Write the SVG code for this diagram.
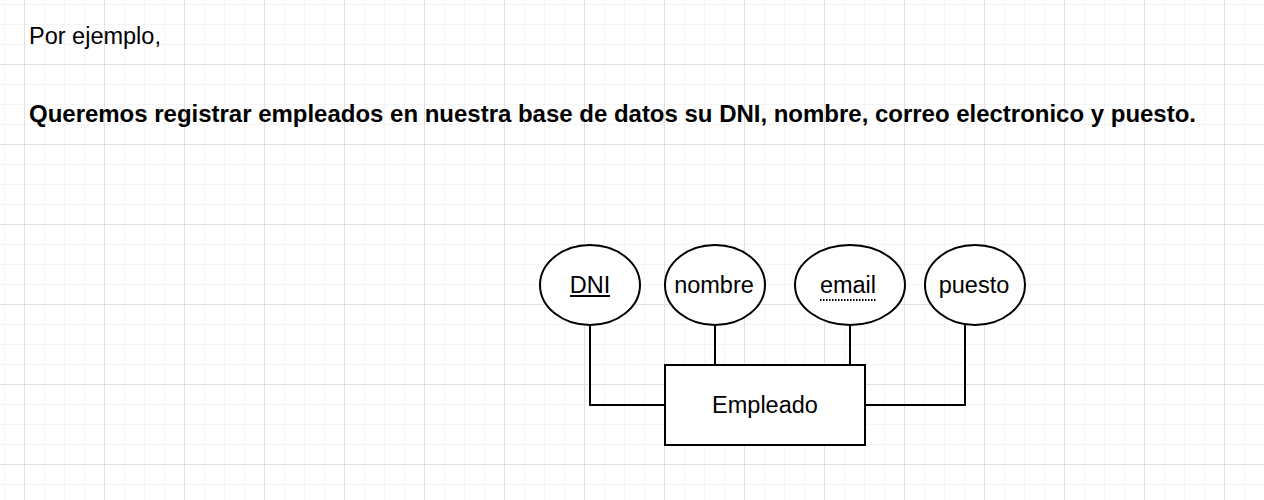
<svg xmlns="http://www.w3.org/2000/svg" width="1264" height="500" viewBox="0 0 1264 500">
  <defs>
    <pattern id="minor" x="4" y="4" width="20" height="20" patternUnits="userSpaceOnUse">
      <path d="M0 0 H20 M0 0 V20" fill="none" stroke="#ececec" stroke-width="1"/>
    </pattern>
    <pattern id="major" x="24" y="64" width="80" height="80" patternUnits="userSpaceOnUse">
      <path d="M0 0 H80 M0 0 V80" fill="none" stroke="#cdcdcd" stroke-width="1"/>
    </pattern>
  </defs>
  <style>
    text { font-family: "Liberation Sans", Arial, Helvetica, sans-serif; fill: #000; }
    .lbl { font-size: 23.5px; text-anchor: middle; }
    .shape { fill: #fff; stroke: #000; stroke-width: 2; }
    .conn { fill: none; stroke: #000; stroke-width: 2; }
  </style>
  <rect width="1264" height="500" fill="#fff"/>
  <rect width="1264" height="500" fill="url(#minor)"/>
  <rect width="1264" height="500" fill="url(#major)"/>

  <text x="29" y="44" style="font-size:23.5px">Por ejemplo,</text>
  <text x="29" y="122" style="font-size:24px;font-weight:bold" textLength="1167" lengthAdjust="spacing">Queremos registrar empleados en nuestra base de datos su DNI, nombre, correo electronico y puesto.</text>

  <g id="connectors">
    <path class="conn" d="M590 325 V405 H665"/>
    <path class="conn" d="M715 325 V365"/>
    <path class="conn" d="M850 325 V365"/>
    <path class="conn" d="M965 325 V405 H865"/>
  </g>

  <g id="attr-dni">
    <ellipse class="shape" cx="590" cy="285" rx="50" ry="40"/>
    <text class="lbl" x="590" y="293">DNI</text>
    <line x1="570" y1="296" x2="610" y2="296" stroke="#000" stroke-width="2"/>
  </g>
  <g id="attr-nombre">
    <ellipse class="shape" cx="715" cy="285" rx="50" ry="40"/>
    <text class="lbl" x="714" y="293">nombre</text>
  </g>
  <g id="attr-email">
    <ellipse class="shape" cx="850" cy="285" rx="55" ry="40"/>
    <text class="lbl" x="848" y="293">email</text>
    <line x1="820" y1="300" x2="877" y2="300" stroke="#000" stroke-width="2" stroke-dasharray="1.5 1.5"/>
  </g>
  <g id="attr-puesto">
    <ellipse class="shape" cx="975" cy="285" rx="50" ry="40"/>
    <text class="lbl" x="974" y="293">puesto</text>
  </g>
  <g id="entity-empleado">
    <rect class="shape" x="665" y="365" width="200" height="80"/>
    <text class="lbl" x="765" y="413">Empleado</text>
  </g>
</svg>
